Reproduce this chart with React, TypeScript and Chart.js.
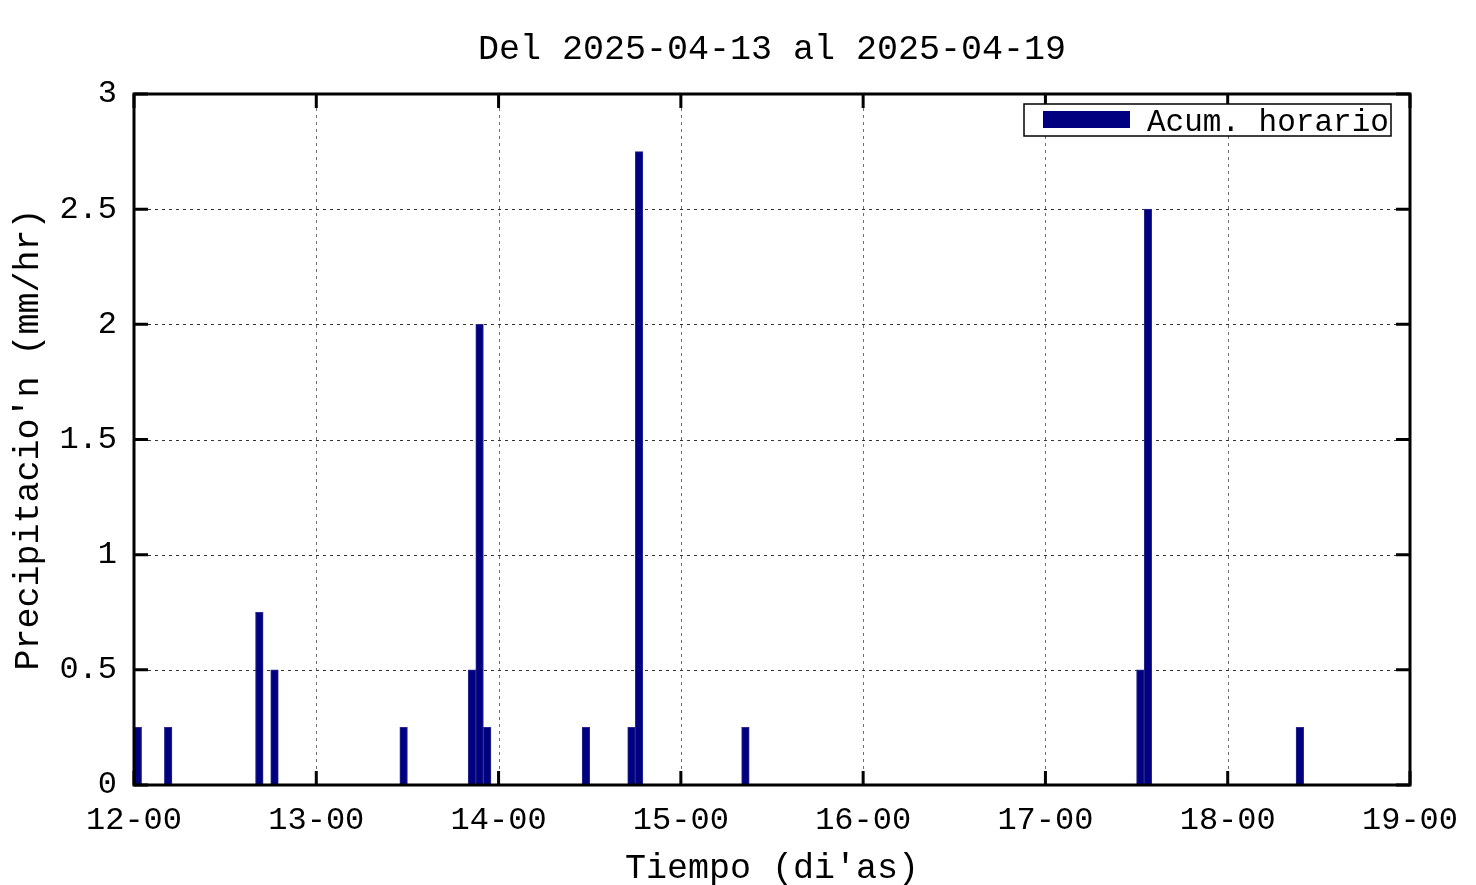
import { useEffect, useRef } from 'react';
import { Chart, registerables } from 'chart.js';

Chart.register(...registerables);

const titleText = 'Del 2025-04-13 al 2025-04-19';
const xTitle = "Tiempo (di'as)";
const yTitle = "Precipitacio'n (mm/hr)";
const seriesLabel = 'Acum. horario';
const dayLabels = ['12-00', '13-00', '14-00', '15-00', '16-00', '17-00', '18-00', '19-00'];
// hour offset since 12-00 of each rainy hour, and its accumulation (mm)
const rainHours = [0, 4, 16, 18, 35, 44, 45, 46, 59, 65, 66, 80, 132, 133, 153];
const rainValues = [0.25, 0.25, 0.75, 0.5, 0.25, 0.5, 2.0, 0.25, 0.25, 0.25, 2.75, 0.25, 0.5, 2.5, 0.25];
const yMin = 0;
const yMax = 3;
const yStep = 0.5;

const FONT = "'Liberation Mono', 'DejaVu Sans Mono', monospace";
const BAR_COLOR = '#000080';
const BAR_EDGE = '#2a2a8c';

const gnuplotPlugin = {
  id: 'gnuplotFrame',
  beforeDatasetsDraw(chart: any) {
    const { ctx, chartArea: a, scales } = chart;
    const xs = scales.x;
    const ys = scales.y;
    ctx.save();
    ctx.lineWidth = 1;
    ctx.setLineDash([3, 4]);
    ctx.strokeStyle = '#707070';
    xs.ticks.forEach((t: any) => {
      if (t.value <= xs.min || t.value >= xs.max) return;
      const px = Math.round(xs.getPixelForValue(t.value)) + 0.5;
      ctx.beginPath();
      ctx.moveTo(px, a.top);
      ctx.lineTo(px, a.bottom);
      ctx.stroke();
    });
    ctx.strokeStyle = '#333333';
    ys.ticks.forEach((t: any) => {
      if (t.value <= ys.min || t.value >= ys.max) return;
      const py = Math.round(ys.getPixelForValue(t.value)) + 0.5;
      ctx.beginPath();
      ctx.moveTo(a.left, py);
      ctx.lineTo(a.right, py);
      ctx.stroke();
    });
    ctx.restore();
  },
  afterDatasetsDraw(chart: any) {
    const { ctx, chartArea: a, scales } = chart;
    const xs = scales.x;
    const ys = scales.y;
    ctx.save();
    ctx.setLineDash([]);
    ctx.strokeStyle = '#000';
    ctx.lineWidth = 3;
    const tl = 14;
    xs.ticks.forEach((t: any) => {
      const px = xs.getPixelForValue(t.value);
      ctx.beginPath();
      ctx.moveTo(px, a.bottom);
      ctx.lineTo(px, a.bottom - tl);
      ctx.moveTo(px, a.top);
      ctx.lineTo(px, a.top + tl);
      ctx.stroke();
    });
    ys.ticks.forEach((t: any) => {
      const py = ys.getPixelForValue(t.value);
      ctx.beginPath();
      ctx.moveTo(a.left, py);
      ctx.lineTo(a.left + tl, py);
      ctx.moveTo(a.right, py);
      ctx.lineTo(a.right - tl, py);
      ctx.stroke();
    });
    ctx.strokeRect(a.left, a.top, a.right - a.left, a.bottom - a.top);

    // legend box (inside plot, top right)
    const ds = chart.data.datasets[0];
    const bx = a.right - 386;
    const by = a.top + 10;
    const bw = 367;
    const bh = 32;
    ctx.fillStyle = '#fff';
    ctx.fillRect(bx, by, bw, bh);
    ctx.lineWidth = 1.5;
    ctx.strokeRect(bx, by, bw, bh);
    ctx.fillStyle = ds.backgroundColor;
    ctx.fillRect(bx + 19, by + 7, 87, 17);
    ctx.fillStyle = '#000';
    ctx.font = `31px ${FONT}`;
    ctx.textBaseline = 'middle';
    ctx.textAlign = 'left';
    ctx.fillText(ds.label, bx + 123, by + 18.5);
    ctx.restore();
  },
};

export default function App() {
  const canvasRef = useRef<HTMLCanvasElement | null>(null);

  useEffect(() => {
    document.body.style.margin = '0';
    const canvas = canvasRef.current;
    if (!canvas) return;
    const points = rainHours.map((h, i) => ({ x: h + 0.5, y: rainValues[i] }));
    const chart = new Chart(canvas, {
      type: 'bar',
      data: {
        datasets: [
          {
            label: seriesLabel,
            data: points as any,
            backgroundColor: BAR_COLOR,
            borderColor: BAR_EDGE,
            borderWidth: 1,
            barPercentage: 1,
            categoryPercentage: 1,
          },
        ],
      },
      options: {
        responsive: false,
        animation: false,
        devicePixelRatio: 1,
        layout: { padding: { left: 0, right: 66, top: 0, bottom: 0 } },
        plugins: {
          legend: { display: false },
          tooltip: { enabled: false },
          title: {
            display: true,
            text: titleText,
            fullSize: false,
            color: '#000',
            font: { family: FONT, size: 35, weight: 'normal' },
            padding: { top: 29, bottom: 23 },
          },
        },
        scales: {
          x: {
            type: 'linear',
            min: 0,
            max: dayLabels.length * 24 - 24,
            offset: false,
            grid: { display: false, drawTicks: false },
            border: { display: false },
            ticks: {
              stepSize: 24,
              autoSkip: false,
              maxRotation: 0,
              padding: 16,
              color: '#000',
              font: { family: FONT, size: 32 },
              callback: (v: any) => dayLabels[Math.round(Number(v) / 24)] ?? '',
            },
            title: {
              display: true,
              text: xTitle,
              color: '#000',
              font: { family: FONT, size: 35, weight: 'normal' },
              padding: { top: 0, bottom: -5 },
            },
            afterFit: (s: any) => {
              s.height = 100;
            },
          },
          y: {
            type: 'linear',
            min: yMin,
            max: yMax,
            grid: { display: false, drawTicks: false },
            border: { display: false },
            ticks: {
              stepSize: yStep,
              padding: 17,
              color: '#000',
              font: { family: FONT, size: 32 },
              callback: (v: any) => String(Number(v)),
            },
            title: {
              display: true,
              text: yTitle,
              color: '#000',
              font: { family: FONT, size: 35, weight: 'normal' },
              padding: { top: 8, bottom: 0 },
            },
            afterFit: (s: any) => {
              s.width = 134;
            },
          },
        },
      },
      plugins: [gnuplotPlugin],
    });
    return () => chart.destroy();
  }, []);

  return (
    <div style={{ position: 'absolute', left: 0, top: 0, width: 1476, height: 885, background: '#fff' }}>
      <canvas ref={canvasRef} width={1476} height={885} style={{ display: 'block', width: 1476, height: 885 }} />
    </div>
  );
}
